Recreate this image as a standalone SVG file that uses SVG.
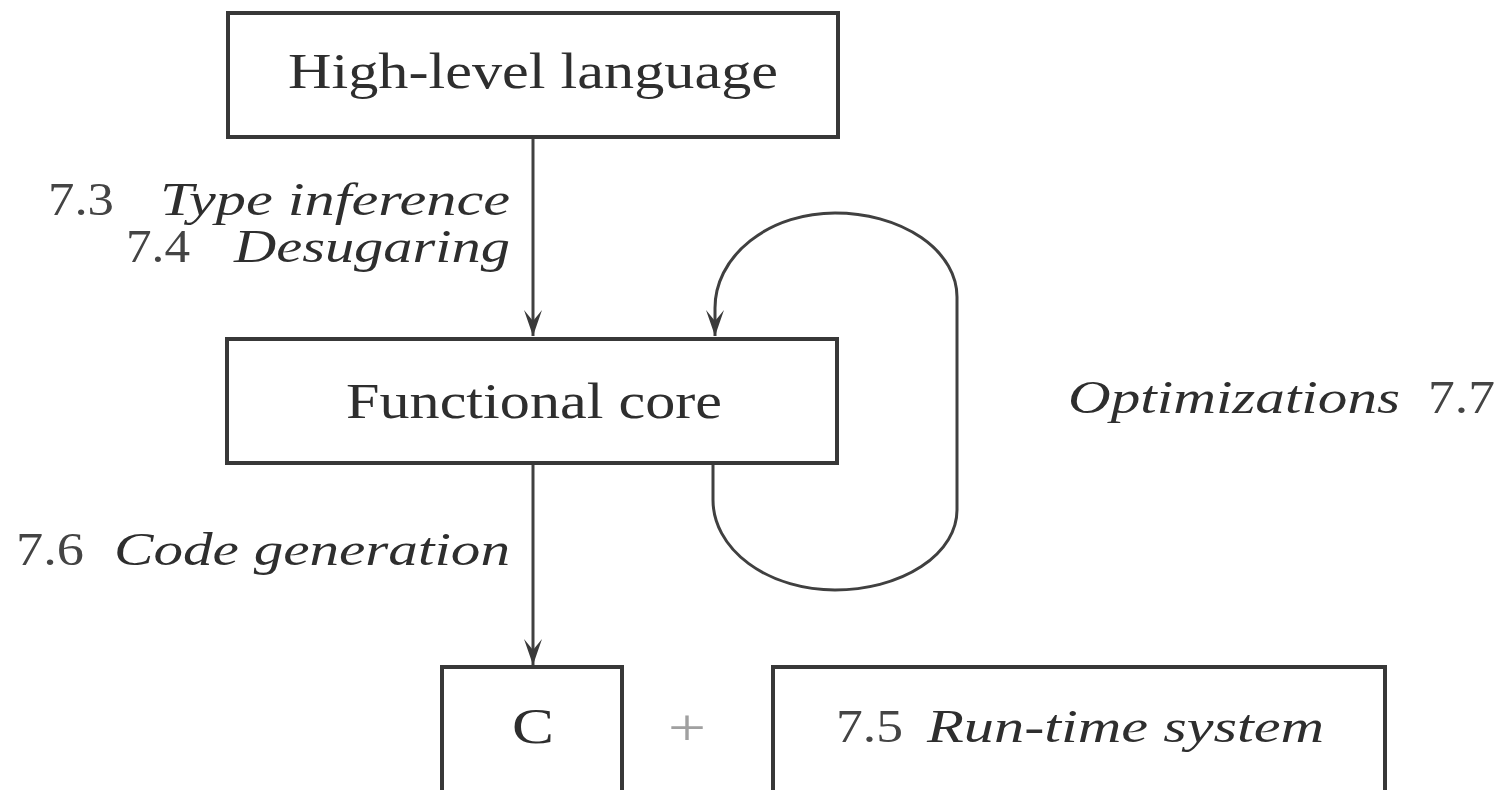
<svg xmlns="http://www.w3.org/2000/svg" width="1506" height="790" viewBox="0 0 1506 790">
<style>
.box{fill:#fff;stroke:#383838;stroke-width:4}
.lbl{font-family:"Liberation Serif","Times New Roman",serif;font-size:50px;fill:#2e2e2e}
.it{font-family:"Liberation Serif","Times New Roman",serif;font-size:46px;font-style:italic;fill:#2e2e2e}
.rm{font-family:"Liberation Serif","Times New Roman",serif;font-size:46px;fill:#444}
.edge{fill:none;stroke:#404040;stroke-width:3}
</style>
<defs>
<marker id="arr" markerUnits="userSpaceOnUse" viewBox="-28 -12 30 24" refX="0" refY="0" markerWidth="30" markerHeight="24" orient="auto">
<path d="M-26,-9 L0,0 L-26,9 L-15,0 Z" fill="#3a3a3a"/>
</marker>
</defs>
<rect width="1506" height="790" fill="#fff"/>
<g id="connectors">
<line class="edge" x1="533" y1="137" x2="533" y2="336" marker-end="url(#arr)"/>
<line class="edge" x1="533" y1="463" x2="533" y2="665" marker-end="url(#arr)"/>
<path class="edge" d="M713,463 L713,500 A122,90 0 0 0 835,590 A122,80 0 0 0 957,510 L957,297 A122,84 0 0 0 835,213 A120,95 0 0 0 715,308 L715,336" marker-end="url(#arr)"/>
</g>
<g id="labels">
<text class="rm" x="48" y="215" textLength="66" lengthAdjust="spacingAndGlyphs">7.3</text>
<text class="it" x="160" y="215" textLength="350" lengthAdjust="spacingAndGlyphs">Type inference</text>
<text class="rm" x="126" y="262" textLength="64" lengthAdjust="spacingAndGlyphs">7.4</text>
<text class="it" x="234" y="262" textLength="276" lengthAdjust="spacingAndGlyphs">Desugaring</text>
<text class="rm" x="16" y="565" textLength="68" lengthAdjust="spacingAndGlyphs">7.6</text>
<text class="it" x="114" y="565" textLength="396" lengthAdjust="spacingAndGlyphs">Code generation</text>
<text class="it" x="1068" y="413" textLength="332" lengthAdjust="spacingAndGlyphs">Optimizations</text>
<text class="rm" x="1428" y="413" textLength="67" lengthAdjust="spacingAndGlyphs">7.7</text>
</g>
<g id="n-high">
<rect class="box" x="228" y="13" width="610" height="124"/>
<text class="lbl" x="288" y="88" textLength="490" lengthAdjust="spacingAndGlyphs">High-level language</text>
</g>
<g id="n-core">
<rect class="box" x="227" y="339" width="610" height="124"/>
<text class="lbl" x="346" y="418" textLength="376" lengthAdjust="spacingAndGlyphs">Functional core</text>
</g>
<g id="n-c">
<rect class="box" x="442" y="667" width="180" height="160"/>
<text class="lbl" x="512" y="743" textLength="42" lengthAdjust="spacingAndGlyphs">C</text>
</g>
<g id="plus">
<text x="668" y="745" textLength="38" lengthAdjust="spacingAndGlyphs" style="font-family:'Liberation Serif',serif;font-size:52px;fill:#a0a0a0">+</text>
</g>
<g id="n-rts">
<rect class="box" x="773" y="667" width="612" height="160"/>
<text class="rm" x="836" y="742" textLength="67" lengthAdjust="spacingAndGlyphs">7.5</text>
<text class="it" x="927" y="742" textLength="397" lengthAdjust="spacingAndGlyphs">Run-time system</text>
</g>
</svg>
